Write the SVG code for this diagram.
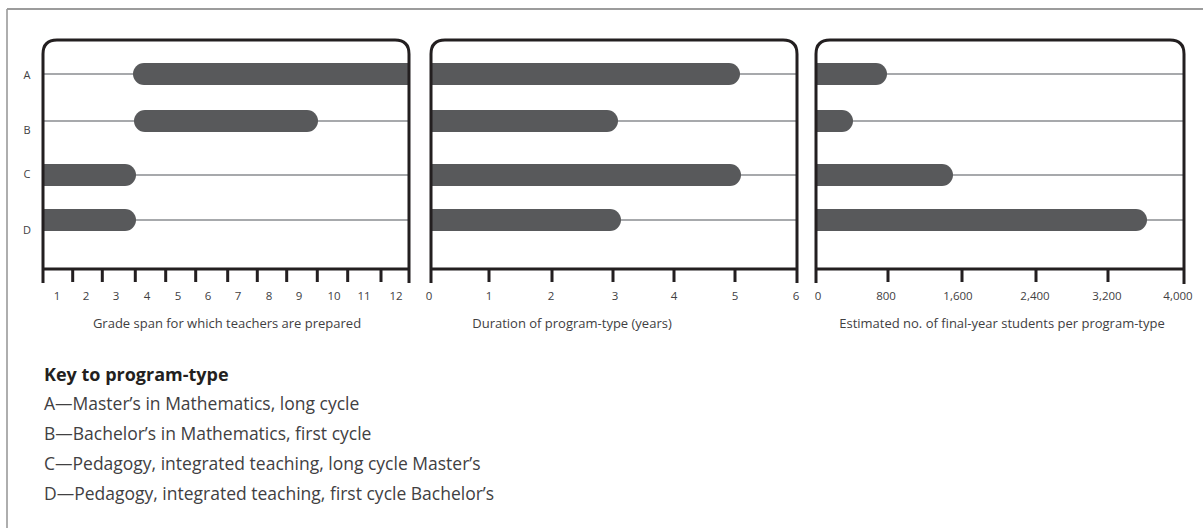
<svg xmlns="http://www.w3.org/2000/svg" width="1203" height="528" viewBox="0 0 1203 528">
  <style>
    .frame-top { stroke: #3a3a3a; stroke-width: 1.2; }
    .frame-left { stroke: #9a9a9a; stroke-width: 1.6; }
    .panel { fill: none; stroke: #231f20; stroke-width: 3; }
    .axis { stroke: #231f20; stroke-width: 3; fill: none; }
    .grid { stroke: #a7a9ac; stroke-width: 2; }
    .bar { fill: #58595b; }
    .tick-label { font-family: "Open Sans", "Noto Sans", sans-serif; font-size: 11.5px; fill: #414042; text-anchor: middle; }
    .row-label { font-family: "Open Sans", "Noto Sans", sans-serif; font-size: 11px; fill: #414042; text-anchor: middle; }
    .axis-title { font-family: "Open Sans", "Noto Sans", sans-serif; font-size: 13px; fill: #414042; text-anchor: middle; }
    .key-title { font-family: "Open Sans", "Noto Sans", sans-serif; font-size: 18px; font-weight: bold; fill: #231f20; }
    .key-item { font-family: "Open Sans", "Noto Sans", sans-serif; font-size: 17.5px; fill: #414042; }
  </style>

  <!-- outer frame (top and left edges) -->
  <line class="frame-top" x1="7" y1="9" x2="1203" y2="9"/>
  <line class="frame-left" x1="7" y1="9" x2="7" y2="528"/>

  <!-- row labels -->
  <g id="row-labels">
    <text class="row-label" x="27" y="79">A</text>
    <text class="row-label" x="27" y="134">B</text>
    <text class="row-label" x="27" y="178">C</text>
    <text class="row-label" x="27" y="234">D</text>
  </g>

  <!-- panel 1: grade span -->
  <g id="panel-grade">
    <g class="gridlines">
      <line class="grid" x1="43" y1="74" x2="409" y2="74"/>
      <line class="grid" x1="43" y1="121" x2="409" y2="121"/>
      <line class="grid" x1="43" y1="175" x2="409" y2="175"/>
      <line class="grid" x1="43" y1="220" x2="409" y2="220"/>
    </g>
    <g class="bars">
      <path class="bar" d="M144,63 H409 V85 H144 A11,11 0 0 1 144,63 Z"/>
      <rect class="bar" x="134" y="110" width="184" height="22" rx="11"/>
      <path class="bar" d="M43,164 H125 A11,11 0 0 1 125,186 H43 Z"/>
      <path class="bar" d="M43,209 H125 A11,11 0 0 1 125,231 H43 Z"/>
    </g>
    <path class="panel" d="M43,269 V54 Q43,40 57,40 H395 Q409,40 409,54 V269"/>
    <line class="axis" x1="43" y1="269" x2="409" y2="269"/>
    <path class="axis" d="M43,269 V283 M72.7,269 V282 M102.3,269 V282 M135.3,269 V282 M165.7,269 V282 M195.7,269 V282 M227.7,269 V282 M257.3,269 V282 M286.7,269 V282 M317.3,269 V282 M347.7,269 V282 M381,269 V282 M409,269 V283"/>
    <g>
      <text class="tick-label" x="57" y="300">1</text>
      <text class="tick-label" x="86" y="300">2</text>
      <text class="tick-label" x="116" y="300">3</text>
      <text class="tick-label" x="147" y="300">4</text>
      <text class="tick-label" x="178" y="300">5</text>
      <text class="tick-label" x="208" y="300">6</text>
      <text class="tick-label" x="238" y="300">7</text>
      <text class="tick-label" x="269" y="300">8</text>
      <text class="tick-label" x="299" y="300">9</text>
      <text class="tick-label" x="334" y="300">10</text>
      <text class="tick-label" x="364" y="300">11</text>
      <text class="tick-label" x="396" y="300">12</text>
    </g>
    <text class="axis-title" x="227" y="328">Grade span for which teachers are prepared</text>
  </g>

  <!-- panel 2: duration -->
  <g id="panel-duration">
    <g class="gridlines">
      <line class="grid" x1="431" y1="74" x2="797" y2="74"/>
      <line class="grid" x1="431" y1="121" x2="797" y2="121"/>
      <line class="grid" x1="431" y1="175" x2="797" y2="175"/>
      <line class="grid" x1="431" y1="220" x2="797" y2="220"/>
    </g>
    <g class="bars">
      <path class="bar" d="M431,63 H729 A11,11 0 0 1 729,85 H431 Z"/>
      <path class="bar" d="M431,110 H607 A11,11 0 0 1 607,132 H431 Z"/>
      <path class="bar" d="M431,164 H730 A11,11 0 0 1 730,186 H431 Z"/>
      <path class="bar" d="M431,209 H610 A11,11 0 0 1 610,231 H431 Z"/>
    </g>
    <path class="panel" d="M431,269 V54 Q431,40 445,40 H783 Q797,40 797,54 V269"/>
    <line class="axis" x1="431" y1="269" x2="797" y2="269"/>
    <path class="axis" d="M431,269 V283 M489,269 V282 M552,269 V282 M613,269 V282 M674,269 V282 M735,269 V282 M797,269 V283"/>
    <g>
      <text class="tick-label" x="429" y="300">0</text>
      <text class="tick-label" x="489" y="300">1</text>
      <text class="tick-label" x="551" y="300">2</text>
      <text class="tick-label" x="615" y="300">3</text>
      <text class="tick-label" x="674" y="300">4</text>
      <text class="tick-label" x="735" y="300">5</text>
      <text class="tick-label" x="796" y="300">6</text>
    </g>
    <text class="axis-title" x="572" y="328">Duration of program-type (years)</text>
  </g>

  <!-- panel 3: estimated students -->
  <g id="panel-students">
    <g class="gridlines">
      <line class="grid" x1="816" y1="74" x2="1184" y2="74"/>
      <line class="grid" x1="816" y1="121" x2="1184" y2="121"/>
      <line class="grid" x1="816" y1="175" x2="1184" y2="175"/>
      <line class="grid" x1="816" y1="220" x2="1184" y2="220"/>
    </g>
    <g class="bars">
      <path class="bar" d="M816,63 H876 A11,11 0 0 1 876,85 H816 Z"/>
      <path class="bar" d="M816,110 H842 A11,11 0 0 1 842,132 H816 Z"/>
      <path class="bar" d="M816,164 H942 A11,11 0 0 1 942,186 H816 Z"/>
      <path class="bar" d="M816,209 H1136 A11,11 0 0 1 1136,231 H816 Z"/>
    </g>
    <path class="panel" d="M816,269 V54 Q816,40 830,40 H1170 Q1184,40 1184,54 V269"/>
    <line class="axis" x1="816" y1="269" x2="1184" y2="269"/>
    <path class="axis" d="M816,269 V283 M888,269 V282 M962,269 V282 M1036,269 V282 M1108,269 V282 M1184,269 V284"/>
    <g>
      <text class="tick-label" x="818" y="300">0</text>
      <text class="tick-label" x="886" y="300">800</text>
      <text class="tick-label" x="958" y="300">1,600</text>
      <text class="tick-label" x="1035" y="300">2,400</text>
      <text class="tick-label" x="1107" y="300">3,200</text>
      <text class="tick-label" x="1178" y="300">4,000</text>
    </g>
    <text class="axis-title" x="1002" y="328">Estimated no. of final-year students per program-type</text>
  </g>

  <!-- key -->
  <g id="key">
    <text class="key-title" x="44" y="381">Key to program-type</text>
    <text class="key-item" x="44" y="410">A—Master’s in Mathematics, long cycle</text>
    <text class="key-item" x="44" y="440">B—Bachelor’s in Mathematics, first cycle</text>
    <text class="key-item" x="44" y="470">C—Pedagogy, integrated teaching, long cycle Master’s</text>
    <text class="key-item" x="44" y="500">D—Pedagogy, integrated teaching, first cycle Bachelor’s</text>
  </g>
</svg>
